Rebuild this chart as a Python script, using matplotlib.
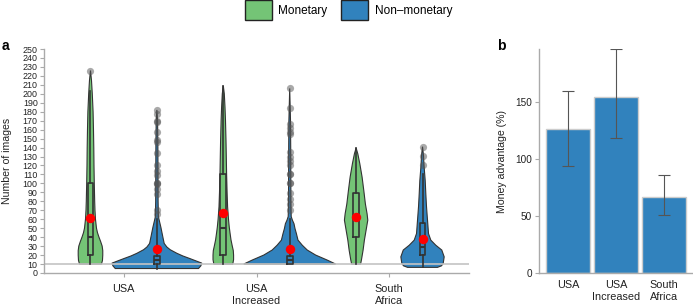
import numpy as np
import matplotlib
matplotlib.use("Agg")
import matplotlib.pyplot as plt
from matplotlib.patches import Patch

plt.rcParams['font.family'] = ['Liberation Sans', 'DejaVu Sans']

# ---------------- data ----------------
sites = ["USA", "USA\nIncreased", "South\nAfrica"]
groups = ["Monetary", "Non\u2013monetary"]

# violin outlines: y levels and relative density (half-width)
m_usa_y = [10, 14, 20, 25, 30, 35, 40, 45, 50, 60, 70, 80, 100, 120, 140, 160, 180, 200, 215, 226]
m_usa_d = [11, 12, 12.3, 12.3, 11.7, 10.2, 8.5, 7, 6, 5, 4.5, 4.2, 3.8, 3.5, 3.3, 3, 2.6, 1.8, 1, 0]
n_usa_y = [5, 8, 11, 16, 19, 22, 26, 29, 33, 40, 51, 59, 63, 80, 110, 140, 170, 182]
n_usa_d = [41.7, 44, 45, 33.3, 26, 20, 13.3, 10, 7.3, 6, 4, 2.3, 1.5, 1.2, 1.1, 1, 0.7, 0]
m_inc_y = [10, 15, 20, 25, 30, 37, 45, 51, 60, 74, 90, 111, 130, 148, 170, 185, 200, 209]
m_inc_d = [9.5, 10.3, 10.3, 10, 9, 7.7, 6.7, 6, 5.2, 4.3, 3.8, 3.3, 3, 2.7, 2.2, 1.7, 1, 0]
n_inc_y = [10, 14.4, 20, 25.6, 31, 36.7, 44, 49.6, 55, 59, 63, 80, 110, 140, 170, 206]
n_inc_d = [46, 37.6, 26, 17.6, 12.6, 8.3, 6.7, 5.3, 4.3, 2.7, 1.5, 1.2, 1.1, 1, 0.8, 0]
m_sa_y = [10, 14.4, 25.6, 36.7, 47.8, 59, 66, 77, 92, 107, 122, 133, 139.6]
m_sa_d = [4.5, 5.3, 7, 8.3, 10, 11.7, 11, 9.3, 7.7, 6, 3.7, 1.7, 0]
n_sa_y = [6.3, 8, 10.7, 18, 25.6, 31, 36.7, 44, 59, 74, 88.5, 103, 120, 131, 141]
n_sa_d = [15, 19, 20.7, 21.7, 19.3, 13.3, 8.3, 6, 5, 4, 3.3, 2.7, 1.5, 1, 0]

# box statistics: q1, median, q3, whisker low, whisker high, mean
m_usa_box = [20, 40, 100, 10, 203, 61]
n_usa_box = [10, 14, 18.5, 5, 60, 27]
m_inc_box = [20, 50, 110, 10, 209, 67]
n_inc_box = [10, 14, 19, 10, 60, 26.5]
m_sa_box = [40, 60, 89, 10, 139.6, 63]
n_sa_box = [20, 29, 56, 6.3, 110, 38]

m_usa_out = [226]
n_usa_out = [182, 178, 170, 169, 157, 148, 146, 134, 120, 114, 109, 100, 100, 99, 94, 88, 70, 66]
m_inc_out = []
n_inc_out = [206, 184, 166, 162, 157, 155, 135, 129, 125, 120, 111, 110, 100, 100, 89, 83, 77, 70]
m_sa_out = []
n_sa_out = [141, 131, 121]

# panel b
adv = [127, 155, 67]
adv_lo = [94, 119, 51]
adv_hi = [160, 197, 86]

# ---------------- style ----------------
green = "#74c476"
blue = "#3182bd"
dark = "#333333"
grey = "#aaaaaa"
txt = "#222222"
dens_scale = 1 / 133.0
offset = 0.25

fig = plt.figure(figsize=(6.93, 3.06), dpi=100)
axa = fig.add_axes([44 / 693, 33 / 306, 425 / 693, 224 / 306])
axb = fig.add_axes([539 / 693, 33 / 306, 154 / 693, 224 / 306])

violins = [
    (0, 0, m_usa_y, m_usa_d, m_usa_box, m_usa_out),
    (0, 1, n_usa_y, n_usa_d, n_usa_box, n_usa_out),
    (1, 0, m_inc_y, m_inc_d, m_inc_box, m_inc_out),
    (1, 1, n_inc_y, n_inc_d, n_inc_box, n_inc_out),
    (2, 0, m_sa_y, m_sa_d, m_sa_box, m_sa_out),
    (2, 1, n_sa_y, n_sa_d, n_sa_box, n_sa_out),
]

stats = []
positions = []
for site, g, ys, ds, box, outs in violins:
    c = site + (-offset if g == 0 else offset)
    ys = np.asarray(ys, float)
    ds = np.asarray(ds, float) * dens_scale
    xs = np.concatenate([c + ds, (c - ds)[::-1]])
    yy = np.concatenate([ys, ys[::-1]])
    axa.fill(xs, yy, facecolor=green if g == 0 else blue, edgecolor=dark,
             linewidth=0.8, zorder=2)
    q1, med, q3, wlo, whi, mean = box
    stats.append(dict(q1=q1, med=med, q3=q3, whislo=wlo, whishi=whi,
                      mean=mean, fliers=np.array(outs, float)))
    positions.append(c)

axa.axhline(10, color="#c4c4c4", lw=1.2, zorder=2.5)

axa.bxp(stats, positions=positions, widths=0.043, showcaps=False,
        showfliers=True, showmeans=True, manage_ticks=False,
        boxprops=dict(color=dark, lw=1.2, zorder=3),
        whiskerprops=dict(color=dark, lw=1.2, zorder=3),
        medianprops=dict(color=dark, lw=1.5, zorder=3),
        flierprops=dict(marker='o', markerfacecolor='#555555',
                        markeredgecolor='none', alpha=0.5, markersize=5.2, zorder=4),
        meanprops=dict(marker='o', markerfacecolor='red', markeredgecolor='none',
                       markersize=6.8, zorder=5))

axa.set_xlim(-0.6, 2.6)
axa.set_ylim(0, 250)
axa.set_yticks(np.arange(0, 251, 10))
axa.set_xticks(range(len(sites)))
axa.set_xticklabels(sites, fontsize=7.8, color=txt, linespacing=1.2)
axa.tick_params(axis='y', labelsize=6.4, length=3, width=0.8, color=grey, pad=1.5,
                labelcolor=txt)
axa.tick_params(axis='x', length=3, width=0.8, color=grey, pad=5)
for s in ["top", "right"]:
    axa.spines[s].set_visible(False)
for s in ["left", "bottom"]:
    axa.spines[s].set_color(grey)
    axa.spines[s].set_linewidth(1.0)
axa.set_ylabel("Number of images", fontsize=7.6, color=txt)
axa.yaxis.set_label_coords(-0.075, 0.5)

# panel b
xb = np.arange(len(sites))
err = [np.array(adv) - np.array(adv_lo), np.array(adv_hi) - np.array(adv)]
axb.bar(xb, adv, width=0.9, color=blue, edgecolor="#cccccc", linewidth=1.0, zorder=2)
axb.errorbar(xb, adv, yerr=err, fmt='none', ecolor="#555555", elinewidth=0.8,
             capsize=4, capthick=0.8, zorder=3)
axb.set_xlim(-0.6, 2.6)
axb.set_ylim(0, 197)
axb.set_yticks([0, 50, 100, 150])
axb.set_xticks(xb)
axb.set_xticklabels(sites, fontsize=7.8, color=txt, linespacing=1.2)
axb.tick_params(axis='y', labelsize=7.2, length=3, width=0.8, color=grey, pad=2,
                labelcolor=txt)
axb.tick_params(axis='x', length=0, pad=5)
for s in ["top", "right"]:
    axb.spines[s].set_visible(False)
for s in ["left", "bottom"]:
    axb.spines[s].set_color(grey)
    axb.spines[s].set_linewidth(1.0)
axb.set_ylabel("Money advantage (%)", fontsize=7.6, color=txt)
axb.yaxis.set_label_coords(-0.21, 0.5)

# legend
handles = [Patch(facecolor=green, edgecolor="#222222", linewidth=1.0),
           Patch(facecolor=blue, edgecolor="#222222", linewidth=1.0)]
fig.legend(handles, groups, loc="upper center", bbox_to_anchor=(0.503, 1.0),
           ncol=2, frameon=False, fontsize=8.5, handlelength=2.25, handleheight=2.25,
           handletextpad=0.55, columnspacing=1.2, borderpad=0.0, borderaxespad=0.0)

fig.text(2 / 693, 1 - 50 / 306, "a", fontsize=10, fontweight="bold")
fig.text(497 / 693, 1 - 50 / 306, "b", fontsize=10, fontweight="bold")

fig.savefig("out.png", dpi=100)
